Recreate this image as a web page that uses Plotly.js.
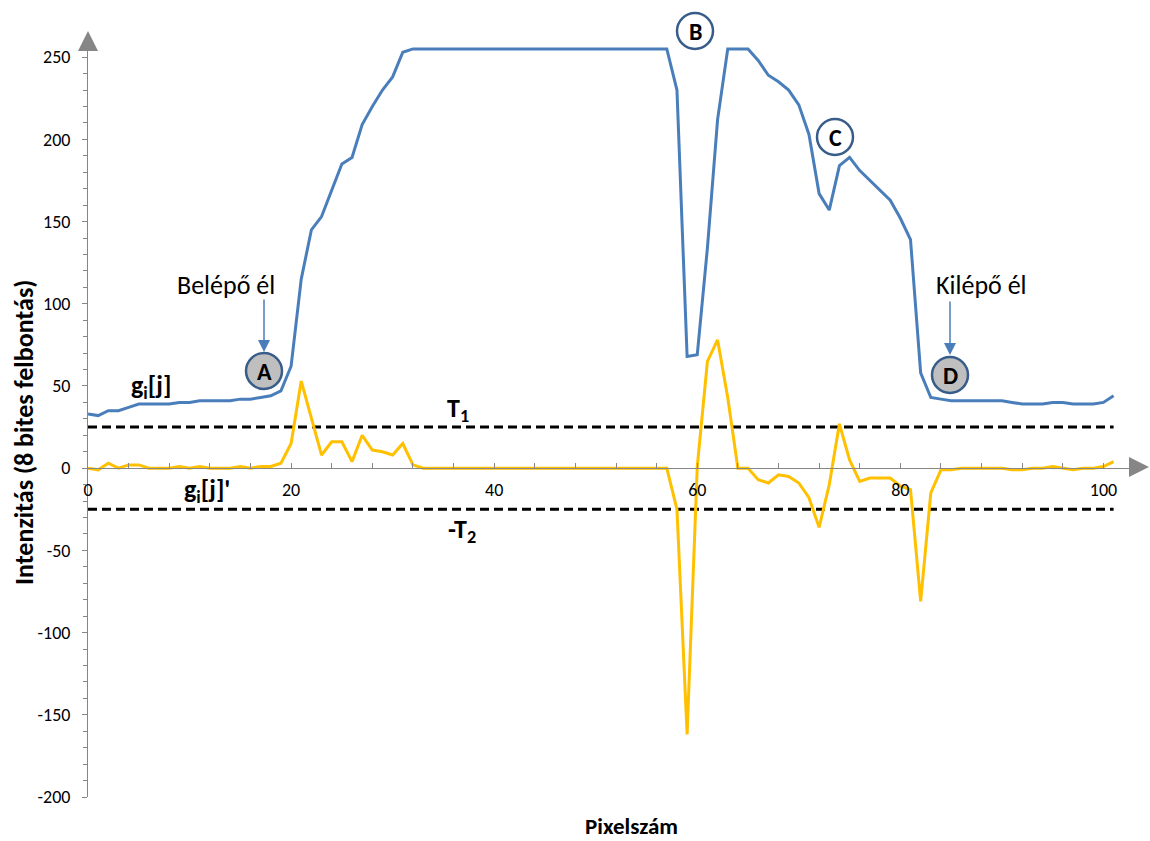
<!DOCTYPE html>
<html>
<head>
<meta charset="utf-8">
<script src="https://cdn.plot.ly/plotly-3.0.1.min.js"></script>
<style>
  html, body { margin: 0; padding: 0; background: #fff; }
  #chart { width: 1150px; height: 841px; }
</style>
</head>
<body>
<div id="chart"></div>
<script>
// intensity profile g_i[j], one value per pixel (0..101)
const intensity = [
  33, 32, 35, 35, 37, 39, 39, 39, 39, 40, 40, 41, 41, 41, 41, 42, 42, 43, 44, 47,
  62, 115, 145, 153, 169, 185, 189, 209, 220, 230, 238, 253, 255, 255, 255, 255, 255, 255, 255, 255,
  255, 255, 255, 255, 255, 255, 255, 255, 255, 255, 255, 255, 255, 255, 255, 255, 255, 255, 230, 68,
  69, 134, 212, 255, 255, 255, 248, 239, 235, 230, 221, 203, 167, 157, 184, 189, 181, 175, 169, 163,
  152, 139, 58, 43, 42, 41, 41, 41, 41, 41, 41, 40, 39, 39, 39, 40, 40, 39, 39, 39,
  40, 44
];

// derivative g_i[j]'
const derivative = [
  0, -1, 3, 0, 2, 2, 0, 0, 0, 1, 0, 1, 0, 0, 0, 1, 0, 1, 1, 3,
  15, 53, 30, 8, 16, 16, 4, 20, 11, 10, 8, 15, 2, 0, 0, 0, 0, 0, 0, 0,
  0, 0, 0, 0, 0, 0, 0, 0, 0, 0, 0, 0, 0, 0, 0, 0, 0, 0, -25, -162,
  1, 65, 78, 43, 0, 0, -7, -9, -4, -5, -9, -18, -36, -10, 27, 5, -8, -6, -6, -6,
  -11, -13, -81, -15, -1, -1, 0, 0, 0, 0, 0, -1, -1, 0, 0, 1, 0, -1, 0, 0,
  1, 4
];

const T1 = 25;
const T2 = 25;
const thresholdX = [0, 101];
const pixels = intensity.map((_, i) => i);

const yTickVals = [-200, -150, -100, -50, 0, 50, 100, 150, 200, 250];
const yTickText = ['-200', '-150', '-100', '-50', '0', '50', '100', '150', '200', '250'];
const xTickVals = [0, 20, 40, 60, 80, 100];
const xTickText = ['0', '20', '40', '60', '80', '100'];

const FONT = 'Carlito, Lato, "Open Sans", sans-serif';
const AXIS = '#868686';

// plot area in screen pixels: x 88..1140, y 44..797
const fx = px => (px - 88) / 1052;
const fy = py => (797 - py) / 753;

const traces = [
  {
    x: thresholdX, y: [T1, T1], type: 'scatter', mode: 'lines',
    line: { color: '#000', width: 3, dash: '9px,5px' }, hoverinfo: 'skip'
  },
  {
    x: thresholdX, y: [-T2, -T2], type: 'scatter', mode: 'lines',
    line: { color: '#000', width: 3, dash: '9px,5px' }, hoverinfo: 'skip'
  },
  {
    x: pixels, y: intensity, name: 'g_i[j]', type: 'scatter', mode: 'lines',
    line: { color: '#4a7ebb', width: 3 }
  },
  {
    x: pixels, y: derivative, name: "g_i[j]'", type: 'scatter', mode: 'lines',
    line: { color: '#ffc000', width: 3 }
  }
];

function circle(cx, cy, fill) {
  return {
    type: 'circle', xref: 'paper', yref: 'paper',
    xsizemode: 'pixel', ysizemode: 'pixel',
    xanchor: fx(cx), yanchor: fy(cy),
    x0: -18, x1: 18, y0: -18, y1: 18,
    fillcolor: fill, line: { color: '#385d8a', width: 2.5 }, layer: 'above'
  };
}

function label(px, py, text, size, opts) {
  return Object.assign({
    xref: 'paper', yref: 'paper', x: fx(px), y: fy(py),
    xanchor: 'center', yanchor: 'middle', showarrow: false, text: text,
    font: { family: FONT, size: size, color: '#000' }
  }, opts || {});
}

function pointer(px, tipY, tailY) {
  return {
    xref: 'paper', yref: 'paper', x: fx(px), y: fy(tipY),
    ax: 0, ay: tailY - tipY, text: '', showarrow: true,
    arrowhead: 2, arrowsize: 1.6, arrowwidth: 1.5, arrowcolor: '#4a7ebb', standoff: 0
  };
}

const annotations = [
  label(226, 285, 'Belépő él', 26),
  label(981, 285, 'Kilépő él', 26),
  pointer(264, 352, 298),
  pointer(950, 355, 300),
  label(264, 372, '<b>A</b>', 24),
  label(695, 31, '<b>B</b>', 24),
  label(835, 137, '<b>C</b>', 24),
  label(950, 375, '<b>D</b>', 24),
  label(151, 386, '<b>g<sub>i</sub>[j]</b>', 26),
  label(207, 491, "<b>g<sub>i</sub>[j]'</b>", 26),
  label(458, 409, '<b>T<sub>1</sub></b>', 26),
  label(462, 530, '<b>-T<sub>2</sub></b>', 26),
  label(24, 433, '<b>Intenzitás (8 bites felbontás)</b>', 26, { textangle: -90 }),
  label(631, 826, '<b>Pixelszám</b>', 23),
  // axis arrow heads
  {
    xref: 'paper', yref: 'paper', x: 0, y: fy(31), ax: 0, ay: 14, text: '',
    showarrow: true, arrowhead: 2, arrowsize: 4, arrowwidth: 1, arrowcolor: AXIS, standoff: 0
  },
  {
    xref: 'paper', yref: 'paper', x: fx(1150), y: fy(467), ax: -12, ay: 0, text: '',
    showarrow: true, arrowhead: 2, arrowsize: 4, arrowwidth: 1, arrowcolor: AXIS, standoff: 0
  }
];

const shapes = [
  circle(264, 371, '#bfbfbf'),
  circle(695, 31, '#ffffff'),
  circle(835, 137, '#ffffff'),
  circle(950, 375, '#bfbfbf')
];

const yRange = [-200, 258];

const layout = {
  width: 1150,
  height: 841,
  margin: { l: 88, r: 10, t: 44, b: 44 },
  paper_bgcolor: '#fff',
  plot_bgcolor: '#fff',
  showlegend: false,
  font: { family: FONT, color: '#000' },
  xaxis: {
    range: [0, 103.6],
    anchor: 'free',
    position: (0 - yRange[0]) / (yRange[1] - yRange[0]),
    showline: true, linecolor: AXIS, linewidth: 1,
    ticks: 'inside', ticklen: 5, tickcolor: AXIS, tickwidth: 1,
    tickmode: 'array', tickvals: xTickVals, ticktext: xTickText,
    minor: { dtick: 4, tick0: 0, ticks: 'inside', ticklen: 5, tickcolor: AXIS, tickwidth: 1 },
    showgrid: false, zeroline: false,
    tickfont: { family: FONT, size: 18, color: '#000' },
    ticklabelstandoff: 5
  },
  yaxis: {
    range: yRange,
    showline: true, linecolor: AXIS, linewidth: 1,
    ticks: 'outside', ticklen: 5, tickcolor: AXIS, tickwidth: 1,
    tickmode: 'array', tickvals: yTickVals, ticktext: yTickText,
    minor: { dtick: 10, tick0: 0, ticks: 'outside', ticklen: 4, tickcolor: AXIS, tickwidth: 1 },
    showgrid: false, zeroline: false,
    tickfont: { family: FONT, size: 18, color: '#000' },
    ticklabelstandoff: 8
  },
  annotations: annotations,
  shapes: shapes
};

Plotly.newPlot('chart', traces, layout, { staticPlot: true });
</script>
</body>
</html>
